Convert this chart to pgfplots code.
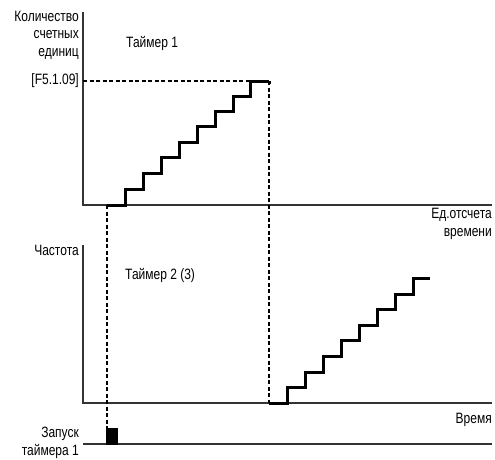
\documentclass[border=0pt]{standalone}
\usepackage{pgfplots}
\pgfplotsset{compat=1.18}
\usepackage{fontspec}
\setmainfont{Liberation Sans}[FakeStretch=0.80]
\tikzset{lbl/.style={font=\fontsize{15}{17.5}\selectfont, inner sep=0pt}}
\begin{document}
\begin{tikzpicture}
\begin{axis}[
  width=495pt, height=459pt, scale only axis,
  xmin=0, xmax=495, ymin=0, ymax=459, y dir=reverse,
  axis lines=none, xtick=\empty, ytick=\empty,
  clip=false,
]
\path (axis cs:0,0) rectangle (axis cs:495,459);
% axes
\addplot[color=black!80, line width=1.2pt] coordinates {(83,12) (83,205) (492,205)};
\addplot[color=black!80, line width=1.2pt] coordinates {(83,245) (83,403) (492,403)};
\addplot[color=black!80, line width=1.2pt] coordinates {(83,444) (492,444)};
% dashed guides
\addplot[black, line width=1.7pt, dash pattern=on 4pt off 2.5pt] coordinates {(83,81) (250,81)};
\addplot[black, line width=1.7pt, dash pattern=on 4pt off 2.5pt] coordinates {(269,81) (269,403)};
\addplot[black, line width=1.7pt, dash pattern=on 4pt off 2.5pt] coordinates {(107,205) (107,428)};
% timer 1 counter staircase
\addplot[black, line width=3pt, const plot] coordinates {
 (107,205) (125,189) (143,173) (161,157) (179,142) (197,126) (215,111) (233,96) (250,81) (269,81)};
\addplot[black, line width=3pt] coordinates {(269,81) (269,84)};
% timer 2 frequency staircase
\addplot[black, line width=3pt, const plot] coordinates {
 (269,403) (287,387) (305,372) (323,356) (341,340) (359,325) (377,309) (395,294) (413,278) (430,278)};
% start pulse
\addplot[black, fill=black, line width=0pt] coordinates {(106,444) (106,428) (117,428) (117,444)} -- cycle;
% labels
\node[lbl, anchor=east, align=right] at (axis cs:79,35) {Количество\\счетных\\единиц};
\node[lbl, anchor=base west] at (axis cs:126,47) {Таймер 1};
\node[lbl, anchor=east] at (axis cs:79,81) {[F5.1.09]};
\node[lbl, anchor=east, align=right] at (axis cs:492,224) {Ед.отсчета\\времени};
\node[lbl, anchor=east] at (axis cs:79,250) {Частота};
\node[lbl, anchor=base west] at (axis cs:125,279) {Таймер 2 (3)};
\node[lbl, anchor=base east] at (axis cs:492,423) {Время};
\node[lbl, anchor=east, align=right] at (axis cs:79,443) {Запуск\\таймера 1};
\end{axis}
\end{tikzpicture}
\end{document}
